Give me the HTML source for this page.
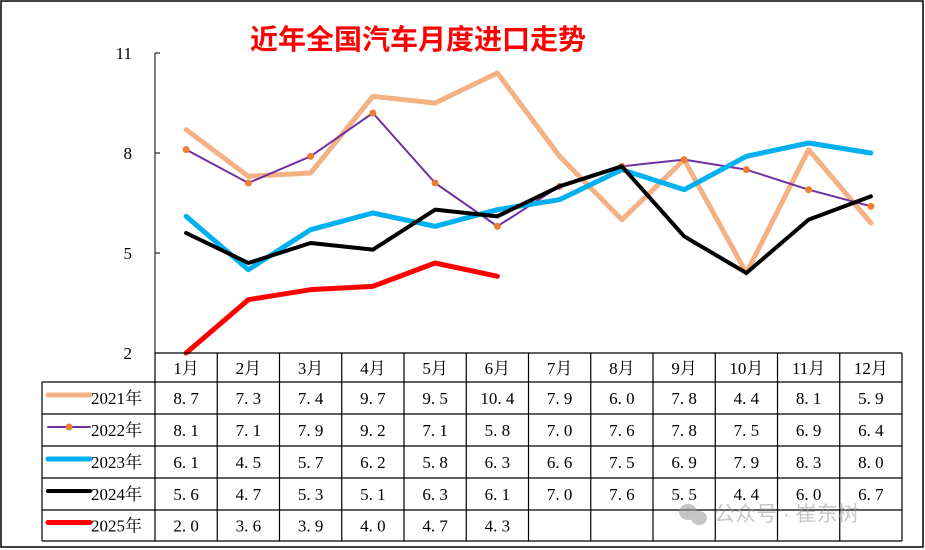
<!DOCTYPE html>
<html><head><meta charset="utf-8"><style>
body{margin:0;background:#fff}
svg{display:block}
text{font-family:"Liberation Serif","Noto Serif CJK SC",serif}
</style></head><body>
<svg id="c" width="925" height="550" xmlns="http://www.w3.org/2000/svg">
<rect x="1" y="1" width="922" height="546" fill="#fff" stroke="#000" stroke-width="1.5"/>
<text x="418" y="49" text-anchor="middle" font-size="28" font-weight="bold" fill="#ff0000" style="font-family:'Liberation Sans','Noto Sans CJK SC',sans-serif">近年全国汽车月度进口走势</text>
<g id="axis"></g><g id="series"></g><g id="table"></g>
<g opacity="0.55">
<ellipse cx="688" cy="512" rx="9" ry="8" fill="#999"/><ellipse cx="699" cy="518" rx="8" ry="7" fill="#999"/>
<text x="714" y="521" font-size="21" fill="#999" style="font-family:'Liberation Sans','Noto Sans CJK SC',sans-serif">公众号 · 崔东树</text>
</g>
</svg>
<script>
const months=["1月","2月","3月","4月","5月","6月","7月","8月","9月","10月","11月","12月"];
const yTicks=[2,5,8,11];
const years=["2021年","2022年","2023年","2024年","2025年"];
const s2021=[8.7,7.3,7.4,9.7,9.5,10.4,7.9,6.0,7.8,4.4,8.1,5.9];
const s2022=[8.1,7.1,7.9,9.2,7.1,5.8,7.0,7.6,7.8,7.5,6.9,6.4];
const s2023=[6.1,4.5,5.7,6.2,5.8,6.3,6.6,7.5,6.9,7.9,8.3,8.0];
const s2024=[5.6,4.7,5.3,5.1,6.3,6.1,7.0,7.6,5.5,4.4,6.0,6.7];
const s2025=[2.0,3.6,3.9,4.0,4.7,4.3];
const NS="http://www.w3.org/2000/svg";
const x0=155,colW=62.25,yTop=53,yBot=353,yMin=2,yMax=11;
const xs=i=>x0+colW*(i+0.5);
const ys=v=>yBot-(v-yMin)/(yMax-yMin)*(yBot-yTop);
function mk(t,a,p){const e=document.createElementNS(NS,t);for(const k in a)e.setAttribute(k,a[k]);p.appendChild(e);return e;}
const ax=document.getElementById('axis');
const yl=mk('line',{x1:x0,y1:yTop,x2:x0,y2:yBot,stroke:'#000','stroke-width':1},ax);


yTicks.forEach(v=>{
 const t=mk('line',{x1:x0,y1:ys(v),x2:x0+5,y2:ys(v),stroke:'#000'},ax);
 
 
 const l=mk('text',{x:132,y:ys(v)+6,'text-anchor':'end','font-size':17},ax);l.textContent=v;
 
 
});
const series=[
 {d:s2021,c:'#f4b183',w:5,name:'series-2021'},
 {d:s2022,c:'#7030a0',w:2,m:'#ed7d31',name:'series-2022'},
 {d:s2023,c:'#00b0f0',w:5,name:'series-2023'},
 {d:s2024,c:'#000000',w:4,name:'series-2024'},
 {d:s2025,c:'#ff0000',w:5,name:'series-2025'}];
const sg=document.getElementById('series');
series.forEach(s=>{
 const p=mk('polyline',{points:s.d.map((v,i)=>xs(i)+','+ys(v)).join(' '),fill:'none',stroke:s.c,'stroke-width':s.w,'stroke-linejoin':'round','stroke-linecap':'round'},sg);
 
 
 if(s.m)s.d.forEach((v,i)=>{const c=mk('circle',{cx:xs(i),cy:ys(v),r:3.5,fill:s.m},sg);
  
  });
});
const tg=document.getElementById('table');
const rowY=[353,382,414,446,478,510,541];const xR=x0+colW*12,xL=42;
const L=(a,b,c,d)=>{const e=mk('line',{x1:a,y1:b,x2:c,y2:d,stroke:'#000','stroke-width':1.2},tg);};
L(x0,353,xR,353);
for(let r=1;r<rowY.length;r++)L(xL,rowY[r],xR,rowY[r]);
L(xL,382,xL,541);
for(let c=0;c<=12;c++)L(x0+colW*c,353,x0+colW*c,541);
months.forEach((m,i)=>{const t=mk('text',{x:xs(i),y:374,'text-anchor':'middle','font-size':17},tg);t.textContent=m;
 
 });
series.forEach((s,r)=>{
 const cy=(rowY[r+1]+rowY[r+2])/2;
 const ln=mk('line',{x1:48,y1:cy-3,x2:90,y2:cy-3,stroke:s.c,'stroke-width':s.w,'stroke-linecap':'round'},tg);
 
 
 if(s.m){const c=mk('circle',{cx:69,cy:cy-3,r:3.5,fill:s.m},tg);}
 const lt=mk('text',{x:91,y:cy+6,'font-size':17},tg);lt.textContent=years[r];
 
 
 s.d.forEach((v,i)=>{const t=mk('text',{x:xs(i),y:cy+6,'text-anchor':'middle','font-size':17},tg);
  t.textContent=v.toFixed(1).replace('.','. ');
  
  });
});
</script>
</body></html>
